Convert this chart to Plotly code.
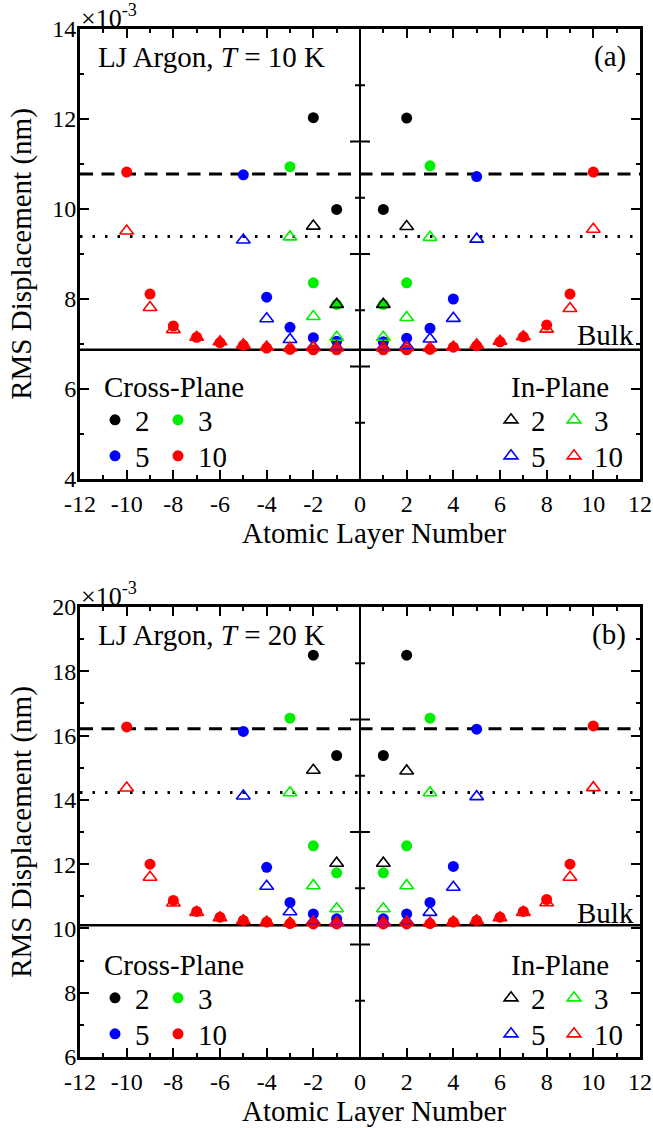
import plotly.graph_objects as go

# ---- data -------------------------------------------------------------
layers_2 = [-2, -1, 1, 2]
layers_3 = [-3, -2, -1, 1, 2, 3]
layers_5 = [-5, -4, -3, -2, -1, 1, 2, 3, 4, 5]
layers_10 = [-10, -9, -8, -7, -6, -5, -4, -3, -2, -1,
             1, 2, 3, 4, 5, 6, 7, 8, 9, 10]

# T = 10 K, RMS displacement in units of 1e-3 nm
cross_10K_n2 = [12.03, 9.99, 9.99, 12.02]
inpl_10K_n2 = [9.62, 7.88, 7.88, 9.61]
cross_10K_n3 = [10.94, 8.36, 7.88, 7.88, 8.36, 10.96]
inpl_10K_n3 = [9.38, 7.61, 7.15, 7.15, 7.59, 9.37]
cross_10K_n5 = [10.76, 8.04, 7.37, 7.14, 7.06, 7.05, 7.13, 7.35, 8.00, 10.72]
inpl_10K_n5 = [9.31, 7.56, 7.10, 6.94, 6.93, 6.93, 6.96, 7.11, 7.57, 9.33]
cross_10K_n10 = [10.82, 8.11, 7.40, 7.15, 7.03, 6.97, 6.91, 6.88, 6.87, 6.87,
                 6.87, 6.87, 6.88, 6.93, 6.96, 7.05, 7.16, 7.42, 8.11, 10.82]
inpl_10K_n10 = [9.51, 7.81, 7.32, 7.15, 7.05, 6.98, 6.93, 6.91, 6.92, 6.91,
                6.91, 6.92, 6.91, 6.93, 6.98, 7.06, 7.16, 7.33, 7.79, 9.55]

# T = 20 K
cross_20K_n2 = [18.50, 15.38, 15.38, 18.50]
inpl_20K_n2 = [14.92, 12.03, 12.03, 14.90]
cross_20K_n3 = [16.54, 12.57, 11.73, 11.73, 12.57, 16.54]
inpl_20K_n3 = [14.22, 11.33, 10.61, 10.61, 11.33, 14.22]
cross_20K_n5 = [16.13, 11.90, 10.81, 10.45, 10.30, 10.30, 10.45, 10.81, 11.93, 16.20]
inpl_20K_n5 = [14.12, 11.31, 10.52, 10.22, 10.20, 10.20, 10.22, 10.50, 11.28, 14.10]
cross_20K_n10 = [16.27, 12.00, 10.87, 10.53, 10.35, 10.25, 10.20, 10.15, 10.14, 10.14,
                 10.14, 10.14, 10.15, 10.20, 10.25, 10.35, 10.53, 10.90, 12.00, 16.30]
inpl_20K_n10 = [14.37, 11.59, 10.79, 10.50, 10.33, 10.24, 10.20, 10.17, 10.20, 10.18,
                10.18, 10.20, 10.17, 10.20, 10.24, 10.33, 10.50, 10.80, 11.59, 14.38]

# reference levels: surface cross-plane, surface in-plane, bulk
surface_cross = [10.78, 16.21]
surface_inpl = [9.39, 14.23]
bulk_level = [6.87, 10.10]

temperatures = [10, 20]
panel_tags = ["(a)", "(b)"]
film_sizes = ["2", "3", "5", "10"]
y_ranges = [[4, 14], [6, 20]]
x_tick_vals = list(range(-12, 13, 2))
x_tick_text = [str(v) for v in x_tick_vals]

# ---- styling ------------------------------------------------------------
W, H = 653, 1128
M_L, M_R, M_T, M_B = 80, 13, 29, 71
PW, PH = W - M_L - M_R, H - M_T - M_B
PANEL_H = 450
PANEL_OFF = [0, 578]           # vertical pixel offset of each panel
FONT = "'Liberation Serif', 'Times New Roman', Times, 'DejaVu Serif', serif"
colors = ["#000000", "#00ee00", "#0000ff", "#ff0000"]

layers = [layers_2, layers_3, layers_5, layers_10]
cross = [[cross_10K_n2, cross_10K_n3, cross_10K_n5, cross_10K_n10],
         [cross_20K_n2, cross_20K_n3, cross_20K_n5, cross_20K_n10]]
inpl = [[inpl_10K_n2, inpl_10K_n3, inpl_10K_n5, inpl_10K_n10],
        [inpl_20K_n2, inpl_20K_n3, inpl_20K_n5, inpl_20K_n10]]


def px_x(px):
    return (px - M_L) / PW


def px_y(py):
    return (H - M_B - py) / PH


def legend_box(px, py):
    return dict(x=px / W, y=1 - py / H, xref="container", yref="container",
                xanchor="left", yanchor="middle", orientation="h",
                entrywidth=18, bgcolor="rgba(0,0,0,0)", borderwidth=0,
                font=dict(family=FONT, size=29, color="black"),
                itemclick=False, itemdoubleclick=False)


fig = go.Figure()
layout_legends = {}
annotations = []
shapes = []

for p in range(2):
    xa = "x" if p == 0 else "x2"
    ya = "y" if p == 0 else "y2"
    off = PANEL_OFF[p]
    base = 4 * p
    leg = ["legend" if base == 0 else f"legend{base + 1}",
           f"legend{base + 2}", f"legend{base + 3}", f"legend{base + 4}"]
    # cross-plane: filled circles
    for i in range(4):
        fig.add_trace(go.Scatter(
            x=layers[i], y=cross[p][i], mode="markers", name=film_sizes[i],
            xaxis=xa, yaxis=ya, legend=leg[0] if i < 2 else leg[1],
            legendwidth=44 if i % 2 else 18,
            marker=dict(symbol="circle", size=11, color=colors[i],
                        line=dict(width=0))))
    # in-plane: open triangles
    for i in range(4):
        fig.add_trace(go.Scatter(
            x=layers[i], y=inpl[p][i], mode="markers", name=film_sizes[i],
            xaxis=xa, yaxis=ya, legend=leg[2] if i < 2 else leg[3],
            legendwidth=44 if i % 2 else 18,
            marker=dict(symbol="triangle-up-open", size=12, color=colors[i],
                        line=dict(width=1.6, color=colors[i]))))

    layout_legends[leg[0]] = legend_box(95, 420 + off)
    layout_legends[leg[1]] = legend_box(95, 456 + off)
    layout_legends[leg[2]] = legend_box(491, 420 + off)
    layout_legends[leg[3]] = legend_box(491, 456 + off)

    xd = f"{xa} domain"
    yd = f"{ya} domain"
    # reference lines
    shapes.append(dict(type="line", xref=xd, yref=ya, x0=0, x1=1,
                       y0=surface_cross[p], y1=surface_cross[p],
                       line=dict(color="black", width=3, dash="13px,8.5px"),
                       layer="below"))
    shapes.append(dict(type="line", xref=xd, yref=ya, x0=0, x1=1,
                       y0=surface_inpl[p], y1=surface_inpl[p],
                       line=dict(color="black", width=3, dash="2.5px,10px"),
                       layer="below"))
    shapes.append(dict(type="line", xref=xd, yref=ya, x0=0, x1=1,
                       y0=bulk_level[p], y1=bulk_level[p],
                       line=dict(color="black", width=2.5), layer="below"))
    # tick marks on the central (x = 0) axis
    for k in range(1, 8):
        half = 10 if k % 2 == 0 else 5
        shapes.append(dict(type="line", xref=xa, yref=yd,
                           xsizemode="pixel", xanchor=0, x0=-half, x1=half,
                           y0=k / 8, y1=k / 8,
                           line=dict(color="black", width=2)))

    txt = dict(family=FONT, size=29, color="black")
    annotations += [
        dict(text="×10<sup>-3</sup>", xref="paper", yref="paper",
             x=px_x(79), y=px_y(16 + off), xanchor="left", yanchor="middle",
             showarrow=False, font=dict(family=FONT, size=26, color="black")),
        dict(text=f"LJ Argon, <i>T</i> = {temperatures[p]} K", xref="paper",
             yref="paper", x=px_x(96), y=px_y(57 + off), xanchor="left",
             yanchor="middle", showarrow=False, font=txt),
        dict(text=panel_tags[p], xref="paper", yref="paper", x=px_x(628),
             y=px_y(56 + off), xanchor="right", yanchor="middle",
             showarrow=False, font=txt),
        dict(text="Bulk", xref="paper", yref="paper", x=px_x(636),
             y=px_y(335 + off), xanchor="right", yanchor="middle",
             showarrow=False, font=txt),
        dict(text="Cross-Plane", xref="paper", yref="paper", x=px_x(102),
             y=px_y(387 + off), xanchor="left", yanchor="middle",
             showarrow=False, font=txt),
        dict(text="In-Plane", xref="paper", yref="paper", x=px_x(509),
             y=px_y(387 + off), xanchor="left", yanchor="middle",
             showarrow=False, font=txt),
        # x-axis title below each panel
        dict(text="Atomic Layer Number", xref="paper", yref="paper",
             x=px_x(374), y=px_y(533 + off), xanchor="center",
             yanchor="middle", showarrow=False, font=txt),
    ]

axis_common = dict(showline=True, linewidth=3, linecolor="black",
                   mirror="ticks", ticks="inside", ticklen=9, tickwidth=2,
                   tickcolor="black", showgrid=False,
                   tickfont=dict(family=FONT, size=24, color="black"))

top_dom = [1 - PANEL_H / PH, 1]
bot_dom = [0, PANEL_H / PH]


def x_axis(anchor):
    return dict(axis_common, range=[-12, 12], tickmode="array",
                tickvals=x_tick_vals, ticktext=x_tick_text, anchor=anchor,
                ticklabelstandoff=1,
                zeroline=True, zerolinewidth=2, zerolinecolor="black",
                minor=dict(ticks="inside", ticklen=4, tickwidth=2,
                           tickcolor="black", tickmode="array",
                           tickvals=list(range(-11, 12, 2))))


def y_axis(rng, anchor, dom):
    return dict(axis_common, range=rng, domain=dom, tickmode="array",
                tickvals=list(range(rng[0], rng[1] + 1, 2)), anchor=anchor,
                ticklabelstandoff=-4, zeroline=False,
                minor=dict(ticks="inside", ticklen=4, tickwidth=2,
                           tickcolor="black", tickmode="array",
                           tickvals=list(range(rng[0] + 1, rng[1], 2))),
                title=dict(text="RMS Displacement (nm)", standoff=13,
                           font=dict(family=FONT, size=29, color="black")))


fig.update_layout(
    width=W, height=H,
    margin=dict(l=M_L, r=M_R, t=M_T, b=M_B, autoexpand=False),
    paper_bgcolor="white", plot_bgcolor="white",
    font=dict(family=FONT, color="black"),
    xaxis=x_axis("y"), yaxis=y_axis(y_ranges[0], "x", top_dom),
    xaxis2=x_axis("y2"), yaxis2=y_axis(y_ranges[1], "x2", bot_dom),
    shapes=shapes, annotations=annotations,
    **layout_legends,
)

fig.write_html("out.html")
